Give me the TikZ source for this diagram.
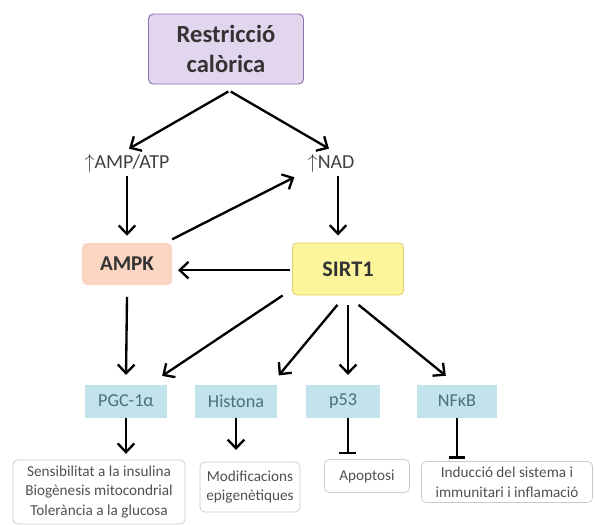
\documentclass[tikz,border=0pt]{standalone}
\usepackage{fontspec}
\setmainfont{Carlito}
\usetikzlibrary{arrows.meta,positioning}

\definecolor{lila}{HTML}{E2D5EE}
\definecolor{lilavora}{HTML}{8E70AA}
\definecolor{salmo}{HTML}{F9D5C2}
\definecolor{groc}{HTML}{FDF59C}
\definecolor{grocvora}{HTML}{E3D06A}
\definecolor{blau}{HTML}{C2E2EC}
\definecolor{blautext}{HTML}{4C6E7E}
\definecolor{grisvora}{HTML}{CACACA}
\definecolor{gristext}{HTML}{505050}

\tikzset{
  caixa/.style={rectangle,rounded corners=4pt,align=center,inner sep=2pt},
  efecte/.style={caixa,draw=grisvora,line width=0.6pt,text=gristext,
    font=\fontsize{13}{17}\selectfont},
  diana/.style={rectangle,fill=blau,text=blautext,inner sep=2pt,
    minimum width=2.46cm,minimum height=0.99cm,font=\fontsize{15.5}{17}\selectfont},
  fletxa/.style={-{Straight Barb[length=2.6mm,width=5mm]},line width=2pt},
  inhib/.style={-{Bar[width=5mm]},line width=2pt}
}

\begin{document}
\begin{tikzpicture}[x=0.03cm,y=-0.03cm]
\useasboundingbox (0,0) rectangle (595,524);

\node[caixa,draw=lilavora,fill=lila,line width=0.8pt,minimum width=4.65cm,minimum height=2.1cm,
  font=\bfseries\fontsize{21}{25}\selectfont,text=black!80] (rc) at (226,49) {Restricció\\calòrica};
\node[text=black!75,font=\fontsize{17}{19}\selectfont] (amp) at (127,163) {$\uparrow$AMP/ATP};
\node[text=black!75,font=\fontsize{17}{19}\selectfont] (nad) at (331,163) {$\uparrow$NAD};
\node[caixa,fill=salmo,minimum width=2.7cm,minimum height=1.26cm,
  font=\bfseries\fontsize{18}{20}\selectfont,text=black!80] (ampk) at (127,264) {AMPK};
\node[caixa,draw=grocvora,fill=groc,line width=0.8pt,minimum width=3.33cm,minimum height=1.56cm,
  font=\bfseries\fontsize{19}{21}\selectfont,text=black!80] (sirt) at (348,269) {SIRT1};

% dianes
\node[diana] (pgc) at (126,401) {PGC-1α};
\node[diana] (hist) at (236,401) {Histona};
\node[diana,minimum width=2.2cm] (p53) at (343,401) {p53};
\node[diana,minimum width=2.4cm] (nfkb) at (457,401) {NFκB};

% efectes
\node[efecte,minimum width=5.16cm,minimum height=1.92cm] (sens) at (99,492)
  {Sensibilitat a la insulina\\Biogènesis mitocondrial\\Tolerància a la glucosa};
\node[efecte,minimum width=3cm,minimum height=1.5cm] (modif) at (250,487)
  {Modificacions\\epigenètiques};
\node[efecte,minimum width=2.55cm,minimum height=0.99cm] (apop) at (367,476) {Apoptosi};
\node[efecte,minimum width=5.13cm,minimum height=1.23cm] (ind) at (507,482)
  {Inducció del sistema i\\immunitari i inflamació};

\path[fletxa,shorten >=2pt]
  ([xshift=2pt,yshift=-6pt]rc.south) edge (amp.north)
  ([xshift=4pt,yshift=-6pt]rc.south) edge (nad.north)
  (amp.south) edge ([yshift=4pt]amp.south |- ampk.north)
  ([yshift=3pt]ampk.north east) edge ([xshift=-6pt]nad.south west)
  ([xshift=6pt]nad.south) edge ([xshift=6pt,yshift=4pt]nad.south |- sirt.north)
  ([xshift=-2pt,yshift=-1pt]sirt.west) edge ([xshift=3pt,yshift=-1pt]sirt.west -| ampk.east)
  ([yshift=-10pt]ampk.south) edge ([yshift=6pt]pgc.north)
  ([xshift=-8pt]sirt.south west) edge ([xshift=-6pt,yshift=6pt]pgc.north east)
  ([xshift=-9pt,yshift=-8pt]sirt.south) edge ([yshift=6pt]hist.north east)
  ([yshift=-8pt]sirt.south) edge ([yshift=6pt]sirt.south |- p53.north)
  ([xshift=9pt,yshift=-8pt]sirt.south) edge ([xshift=-8pt,yshift=6pt]nfkb.north)
  (pgc.south) edge ([yshift=3pt]pgc.south |- sens.north)
  (hist.south) edge ([yshift=8pt]hist.south |- modif.north);
\path[inhib]
  ([xshift=4pt]p53.south) edge ([xshift=4pt,yshift=4pt]p53.south |- apop.north)
  (nfkb.south) edge ([yshift=2pt]nfkb.south |- ind.north);
\end{tikzpicture}
\end{document}
